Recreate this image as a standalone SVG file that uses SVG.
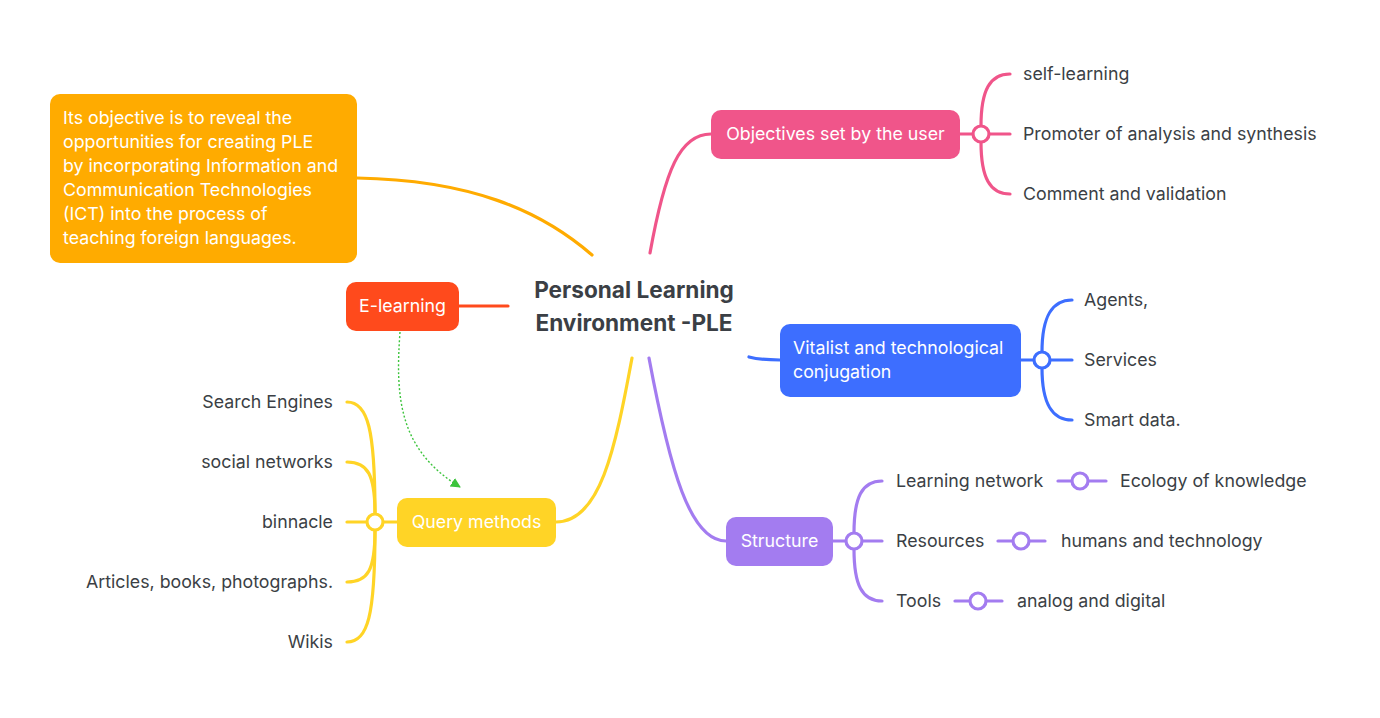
<svg xmlns="http://www.w3.org/2000/svg" width="1380" height="718" viewBox="0 0 1380 718">
<style>
text{font-family:Inter,"Noto Sans",sans-serif;font-size:17.8px;fill:#3b3f45}
.w{fill:#fff}
.c{font-size:22.6px;font-weight:bold;fill:#3b3f45}
path,line{fill:none;stroke-width:3.2;stroke-linecap:round}
circle{fill:#fff;stroke-width:3.2}
.dot{stroke:#3cc43c;stroke-width:1.4;stroke-dasharray:2,2;stroke-linecap:butt}
.ah{fill:#3cc43c;stroke:none}
</style>
<defs><marker id="ga" markerUnits="userSpaceOnUse" markerWidth="12" markerHeight="12" refX="9" refY="5" orient="auto"><path class="ah" d="M0,0 L10,5 L0,10 z"/></marker></defs>
<g id="connectors">
<path d="M357,178 C470,180 540,210 592,255" stroke="#FFAB00"/>
<path d="M459,306 H508" stroke="#FF4A1C"/>
<path class="dot" d="M400,332 C395,400 400,450 460,487" marker-end="url(#ga)"/>
<path d="M650,253 C665,170 680,134 711,134" stroke="#F0558A"/>
<path d="M749,357 C760,360 770,360 780,360" stroke="#3D6EFF"/>
<path d="M649,358 C670,470 690,541 726,541" stroke="#A37CF0"/>
<path d="M632,358 C615,450 600,522 556,522" stroke="#FFD426"/>
<g stroke="#F0558A"><path d="M960,134 H973"/><path d="M989,134 H1010"/><path d="M981,126 C981,90 990,74 1010,74"/><path d="M981,142 C981,178 990,194 1010,194"/></g>
<g stroke="#3D6EFF"><path d="M1021,360 H1034"/><path d="M1050,360 H1072"/><path d="M1042,352 C1042,316 1052,300 1072,300"/><path d="M1042,368 C1042,404 1052,420 1072,420"/></g>
<g stroke="#A37CF0"><path d="M833,541 H846"/><path d="M862,541 H882"/><path d="M854,533 C854,497 862,481 882,481"/><path d="M854,549 C854,585 862,601 882,601"/>
<path d="M1058,481 H1106"/><path d="M998,541 H1045"/><path d="M955,601 H1002"/></g>
<g stroke="#FFD426"><path d="M397,522 H383"/><path d="M367,522 H347"/><path d="M375,514 C375,430 368,402 347,402"/><path d="M375,514 C375,475 368,462 347,462"/><path d="M375,530 C375,570 368,582 347,582"/><path d="M375,530 C375,615 368,642 347,642"/></g>
</g>
<g id="center"><text class="c" x="634" y="298" text-anchor="middle">Personal Learning</text><text class="c" x="634" y="331" text-anchor="middle">Environment -PLE</text></g>
<g id="note"><rect x="50" y="94" width="307" height="169" rx="10" fill="#FFAB00"/>
<text class="w" x="63" y="124">Its objective is to reveal the</text><text class="w" x="63" y="148">opportunities for creating PLE</text><text class="w" x="63" y="172">by incorporating Information and</text><text class="w" x="63" y="196">Communication Technologies</text><text class="w" x="63" y="220">(ICT) into the process of</text><text class="w" x="63" y="244">teaching foreign languages.</text></g>
<g id="elearning"><rect x="346" y="282" width="113" height="49" rx="10" fill="#FF4A1C"/><text class="w" x="402.5" y="312" text-anchor="middle">E-learning</text></g>
<g id="objectives"><rect x="711" y="110" width="249" height="49" rx="10" fill="#F0558A"/><text class="w" x="835.5" y="140" text-anchor="middle">Objectives set by the user</text>
<circle cx="981" cy="134" r="8" stroke="#F0558A"/>
<text x="1023" y="80">self-learning</text><text x="1023" y="140">Promoter of analysis and synthesis</text><text x="1023" y="200">Comment and validation</text></g>
<g id="vitalist"><rect x="780" y="324" width="241" height="73" rx="10" fill="#3D6EFF"/><text class="w" x="793" y="354">Vitalist and technological</text><text class="w" x="793" y="378">conjugation</text>
<circle cx="1042" cy="360" r="8" stroke="#3D6EFF"/>
<text x="1084" y="306">Agents,</text><text x="1084" y="366">Services</text><text x="1084" y="426">Smart data.</text></g>
<g id="structure"><rect x="726" y="517" width="107" height="49" rx="10" fill="#A37CF0"/><text class="w" x="779.5" y="547" text-anchor="middle">Structure</text>
<circle cx="854" cy="541" r="8" stroke="#A37CF0"/>
<text x="896" y="487">Learning network</text><text x="896" y="547">Resources</text><text x="896" y="607">Tools</text>
<circle cx="1080" cy="481" r="8" stroke="#A37CF0"/><circle cx="1021" cy="541" r="8" stroke="#A37CF0"/><circle cx="978" cy="601" r="8" stroke="#A37CF0"/>
<text x="1120" y="487">Ecology of knowledge</text><text x="1061" y="547">humans and technology</text><text x="1017" y="607">analog and digital</text></g>
<g id="query"><rect x="397" y="498" width="159" height="49" rx="10" fill="#FFD426"/><text class="w" x="476.5" y="528" text-anchor="middle">Query methods</text>
<circle cx="375" cy="522" r="8" stroke="#FFD426"/>
<g text-anchor="end"><text x="333" y="408">Search Engines</text><text x="333" y="468">social networks</text><text x="333" y="528">binnacle</text><text x="333" y="588">Articles, books, photographs.</text><text x="333" y="648">Wikis</text></g></g>
</svg>
